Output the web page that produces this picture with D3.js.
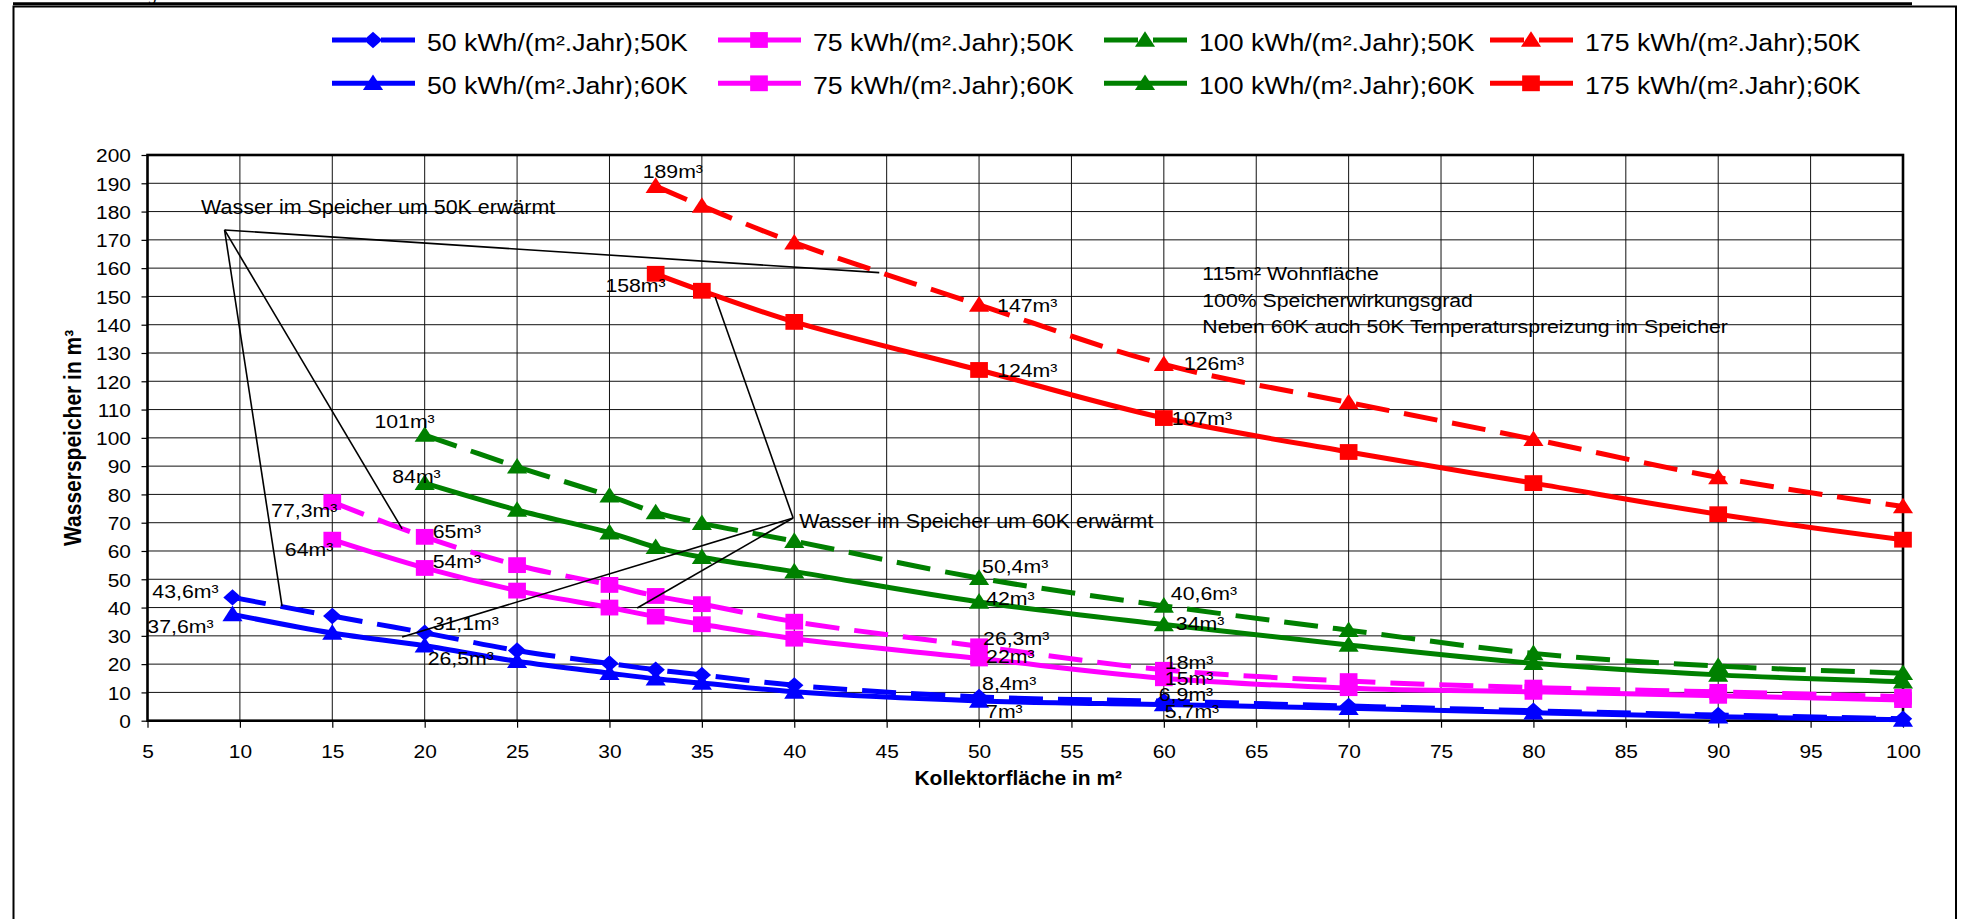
<!DOCTYPE html>
<html><head><meta charset="utf-8">
<script src="https://cdn.jsdelivr.net/npm/d3@7"></script>
<style>
html,body{margin:0;padding:0;background:#fff;overflow:hidden;}
svg{display:block;font-family:"Liberation Sans",Arial,sans-serif;}
</style></head><body>
<svg id="chart" width="1966" height="919"></svg>
<script>
// ---------- data ----------
const xTicks = [5,10,15,20,25,30,35,40,45,50,55,60,65,70,75,80,85,90,95,100];
const yTicks = [0,10,20,30,40,50,60,70,80,90,100,110,120,130,140,150,160,170,180,190,200];

const x50kWh  = [9.6,15,20,25,30,32.5,35,40,50,60,70,80,90,100];
const blue50K = [43.6,37,31.1,24.8,20.2,18,16.2,12.5,8.4,6.9,5.2,3.5,2,0.7];
const blue60K = [37.6,31,26.5,21,16.8,14.8,13.3,10.2,7,5.7,4.4,2.8,1.4,0.3];

const x75kWh  = [15,20,25,30,32.5,35,40,50,60,70,80,90,100];
const mag50K  = [77.3,65,55,48,44.1,41.2,35,26.3,18,14,11.7,10.2,8.5];
const mag60K  = [64,54,46,40,36.8,34.1,29,22,15,11.5,10.2,8.8,7.3];

const x100kWh = [20,25,30,32.5,35,40,50,60,70,80,90,100];
const green50K= [101,89.8,79.5,73.6,69.8,63.5,50.4,40.6,32,23.8,19.3,16.8];
const green60K= [84,74.5,66.5,61.3,57.8,52.7,42,34,26.8,20.3,16.2,13.8];

const x175kWh = [32.5,35,40,50,60,70,80,90,100];
const red50K  = [189,182,169,147,126,112.5,99.5,86,75.7];
const red60K  = [158,152,141,124,107,95,84,73,64];

const seriesNames = ["50 kWh/(m².Jahr);50K","75 kWh/(m².Jahr);50K","100 kWh/(m².Jahr);50K","175 kWh/(m².Jahr);50K",
                     "50 kWh/(m².Jahr);60K","75 kWh/(m².Jahr);60K","100 kWh/(m².Jahr);60K","175 kWh/(m².Jahr);60K"];

// data labels: [series index, point index, text]
const labelTexts = [
 [3,0,"189m³"],[7,0,"158m³"],[3,3,"147m³"],[7,3,"124m³"],[3,4,"126m³"],[7,4,"107m³"],
 [2,0,"101m³"],[6,0,"84m³"],[1,0,"77,3m³"],[5,0,"64m³"],[1,1,"65m³"],[5,1,"54m³"],
 [0,0,"43,6m³"],[4,0,"37,6m³"],[0,2,"31,1m³"],[4,2,"26,5m³"],
 [2,6,"50,4m³"],[6,6,"42m³"],[2,7,"40,6m³"],[6,7,"34m³"],
 [1,7,"26,3m³"],[5,7,"22m³"],[1,8,"18m³"],[5,8,"15m³"],
 [0,8,"8,4m³"],[4,8,"7m³"],[0,9,"6,9m³"],[4,9,"5,7m³"]
];
// label placement (anchor, dx, dy) in the same order
const labelOffsets = [
 ["start",-13,-8],["end",10,18],["start",18,7],["start",18,7],["start",20,6],["start",8,7],
 ["end",10,-7],["end",16,0],["end",5,15],["end",1,16],["start",8,1],["start",8,0],
 ["end",-14,1],["end",-19,19],["start",8,-3],["start",3,19],
 ["start",3,-5],["start",7,3],["start",7,-6],["start",12,5],
 ["start",4,-1],["start",7,5],["start",1,-1],["start",1,7],
 ["start",3,-7],["start",7,17],["start",-5,0],["start",1,13]
];

// annotations (data coordinates)
const note50Text = "Wasser im Speicher um 50K erwärmt";
const note50Anchor = [7.9,179.1];
const note50Apex = [9.17,173.5];
const note50Targets = [[44.6,158.4],[12.28,40.55],[18.78,67.8]];
const note60Text = "Wasser im Speicher um 60K erwärmt";
const note60Anchor = [40.27,68.1];
const note60Apex = [39.94,71.66];
const note60Targets = [[35.72,149.8],[18.78,29.6],[31.5,39.85]];
const infoLines = ["115m² Wohnfläche","100% Speicherwirkungsgrad","Neben 60K auch 50K  Temperaturspreizung im Speicher"];
const infoAnchor = [62.08,[155.8,146.3,137.0]];

const xTitle = "Kollektorfläche in m²";
const yTitle = "Wasserspeicher in m³";

// ---------- build ----------
const svg = d3.select("#chart");
const X0 = 147.5, X1 = 1903, Y0 = 720.7, Y1 = 155;
const x = d3.scaleLinear().domain([5,100]).range([X0,X1]);
const y = d3.scaleLinear().domain([0,200]).range([Y0,Y1]);

const diamond = {draw(ctx,size){const r=Math.sqrt(size/2);ctx.moveTo(0,-r);ctx.lineTo(r,0);ctx.lineTo(0,r);ctx.lineTo(-r,0);ctx.closePath();}};
const triangle = {draw(ctx,size){const s=Math.sqrt(size*4/Math.sqrt(3));const h=s*Math.sqrt(3)/2;ctx.moveTo(0,-h/2-1);ctx.lineTo(s/2,h/2-1);ctx.lineTo(-s/2,h/2-1);ctx.closePath();}};
const symbols = {diamond:[diamond,135], triangle:[triangle,140], square:[d3.symbolSquare,250]};

const series = [
 {xs:x50kWh, ys:blue50K, color:"#0000FF", dashed:true,  marker:"diamond"},
 {xs:x75kWh, ys:mag50K,  color:"#FF00FF", dashed:true,  marker:"square"},
 {xs:x100kWh,ys:green50K,color:"#008000", dashed:true,  marker:"triangle"},
 {xs:x175kWh,ys:red50K,  color:"#FF0000", dashed:true,  marker:"triangle"},
 {xs:x50kWh, ys:blue60K, color:"#0000FF", dashed:false, marker:"triangle"},
 {xs:x75kWh, ys:mag60K,  color:"#FF00FF", dashed:false, marker:"square"},
 {xs:x100kWh,ys:green60K,color:"#008000", dashed:false, marker:"triangle"},
 {xs:x175kWh,ys:red60K,  color:"#FF0000", dashed:false, marker:"square"}
];
series.forEach((s,i)=>{ s.name = seriesNames[i]; s.points = s.xs.map((v,j)=>[v,s.ys[j]]); });

const SX = 1.12; // horizontal text stretch of the original rendering
function stretchedText(parent, px, py, str, size, anchor, sx, weight){
  return parent.append("text")
    .attr("transform",`translate(${px},${py}) scale(${sx},1)`)
    .attr("text-anchor",anchor||"start")
    .attr("font-size",size)
    .attr("font-weight",weight||"normal")
    .attr("fill","#000")
    .text(str);
}

// page remnants + outer frame
svg.append("text").attr("x",149).attr("y",0).attr("font-family","Liberation Serif").attr("font-style","italic").attr("font-size",17).text("g");
svg.append("line").attr("x1",13).attr("x2",1912).attr("y1",3.8).attr("y2",3.8).attr("stroke","#000").attr("stroke-width",3);
svg.append("rect").attr("x",13.5).attr("y",6.5).attr("width",1942.5).attr("height",960).attr("fill","none").attr("stroke","#000").attr("stroke-width",2);

// grid
const grid = svg.append("g").attr("stroke","#111").attr("stroke-width",1);
grid.selectAll("line.v").data(xTicks.slice(1,-1)).join("line").attr("class","v")
  .attr("x1",d=>x(d)).attr("x2",d=>x(d)).attr("y1",Y1).attr("y2",Y0);
grid.selectAll("line.h").data(yTicks.slice(1,-1)).join("line").attr("class","h")
  .attr("x1",X0).attr("x2",X1).attr("y1",d=>y(d)).attr("y2",d=>y(d));

// axes
const gx = svg.append("g").attr("transform",`translate(0,${Y0})`)
  .call(d3.axisBottom(x).tickValues(xTicks).tickSize(7).tickSizeOuter(0).tickFormat(d3.format("d")));
gx.attr("font-family",null).attr("font-size",null);
gx.select(".domain").remove();
gx.selectAll(".tick line").attr("stroke","#000").attr("stroke-width",1.2);
gx.selectAll(".tick text").attr("y",null).attr("dy",null).attr("fill","#000").attr("font-size",19)
  .attr("transform",`translate(0,37.5) scale(1.1,1)`);

const gy = svg.append("g").attr("transform",`translate(${X0},0)`)
  .call(d3.axisLeft(y).tickValues(yTicks).tickSize(6).tickSizeOuter(0).tickFormat(d3.format("d")));
gy.attr("font-family",null).attr("font-size",null);
gy.select(".domain").remove();
gy.selectAll(".tick line").attr("stroke","#000").attr("stroke-width",1.2);
gy.selectAll(".tick text").attr("x",null).attr("dy",null).attr("fill","#000").attr("font-size",19)
  .attr("text-anchor","end").attr("transform",`translate(-16.5,6.8) scale(1.1,1)`);

// plot border
svg.append("rect").attr("x",X0).attr("y",Y1).attr("width",X1-X0).attr("height",Y0-Y1)
  .attr("fill","none").attr("stroke","#000").attr("stroke-width",2.6);

// axis titles
svg.append("text").attr("x",(X0+X1)/2-7).attr("y",785).attr("text-anchor","middle")
  .attr("font-size",21).attr("font-weight","bold").text(xTitle);
svg.append("text").attr("transform",`translate(81,${(Y0+Y1)/2}) rotate(-90) scale(1,1.1)`)
  .attr("text-anchor","middle").attr("font-size",21).attr("font-weight","bold").text(yTitle);

// series
const line = d3.line().x(d=>x(d[0])).y(d=>y(d[1])).curve(d3.curveCatmullRom.alpha(0.5));
const gs = svg.append("g");
series.forEach(s=>{
  const g = gs.append("g");
  g.append("path").attr("d",line(s.points)).attr("fill","none").attr("stroke",s.color)
    .attr("stroke-width",5).attr("stroke-dasharray",s.dashed?"34,15":null);
  const [type,size] = symbols[s.marker];
  g.selectAll("path.m").data(s.points).join("path").attr("class","m")
    .attr("d",d3.symbol().type(type).size(size))
    .attr("transform",d=>`translate(${x(d[0])},${y(d[1])}) scale(1.12,1)`)
    .attr("fill",s.color);
});

// data labels
const gl = svg.append("g");
labelTexts.forEach((l,i)=>{
  const [si,pi,txt] = l; const [anc,dx,dy] = labelOffsets[i];
  const p = series[si].points[pi];
  stretchedText(gl, x(p[0])+dx, y(p[1])+dy, txt, 19, anc, SX);
});

// annotations
const ga = svg.append("g");
function callout(apex, targets){
  targets.forEach(t=>{
    ga.append("line").attr("x1",x(apex[0])).attr("y1",y(apex[1])).attr("x2",x(t[0])).attr("y2",y(t[1]))
      .attr("stroke","#000").attr("stroke-width",1.6);
  });
}
callout(note50Apex, note50Targets);
callout(note60Apex, note60Targets);
stretchedText(ga, x(note50Anchor[0]), y(note50Anchor[1]), note50Text, 19.5, "start", 1.1);
stretchedText(ga, x(note60Anchor[0]), y(note60Anchor[1]), note60Text, 19.5, "start", 1.1);
infoLines.forEach((t,i)=> stretchedText(ga, x(infoAnchor[0]), y(infoAnchor[1][i]), t, 19, "start", SX));

// legend
const lg = svg.append("g");
series.forEach((s,i)=>{
  const col = i%4, row = Math.floor(i/4);
  const lx = 332 + col*386, ly = 40 + row*43.3;
  lg.append("line").attr("x1",lx).attr("x2",lx+83).attr("y1",ly).attr("y2",ly)
    .attr("stroke",s.color).attr("stroke-width",5).attr("stroke-dasharray",s.dashed?"34,15":null);
  const [type,size] = symbols[s.marker];
  lg.append("path").attr("d",d3.symbol().type(type).size(size))
    .attr("transform",`translate(${lx+41},${ly}) scale(1.12,1)`).attr("fill",s.color);
  stretchedText(lg, lx+95, ly+10.5, s.name, 23, "start", 1.16);
});
</script>
</body></html>
